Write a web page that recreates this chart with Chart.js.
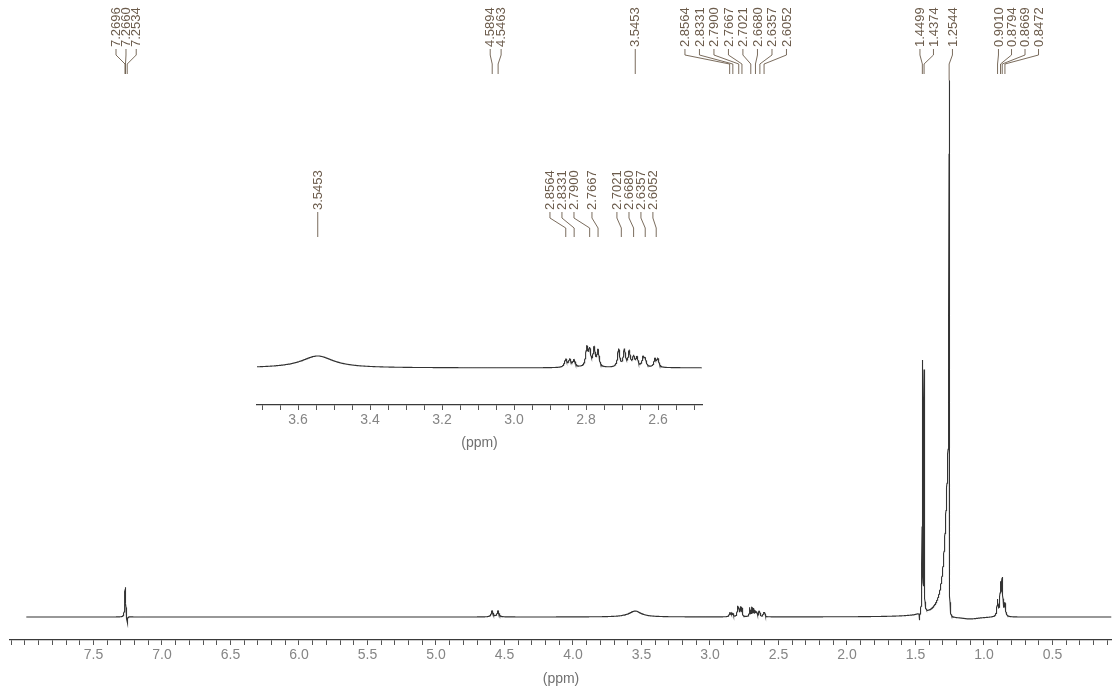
<!DOCTYPE html>
<html><head><meta charset="utf-8">
<script src="https://cdn.jsdelivr.net/npm/chart.js@4"></script>
<style>
html,body{margin:0;padding:0;background:#fff;}
#wrap{position:relative;width:1112px;height:691px;background:#fff;}
canvas{position:absolute;left:0;top:0;}
</style></head><body>
<div id="wrap"><canvas id="main" width="1112" height="691"></canvas><canvas id="inset" width="1112" height="691"></canvas></div>
<script>
// ---------- DATA ----------
// line positions (ppm) and intensities (relative, main-plot pixel units)
const peakPpm       = [7.2696, 7.2660, 7.2534, 4.5894, 4.5463, 3.5453, 2.8564, 2.8450, 2.8331, 2.7980, 2.7900, 2.7775, 2.7667, 2.7095, 2.6935, 2.6800, 2.6680, 2.6585, 2.6415, 2.6357, 2.6085, 2.6005, 1.4700, 1.4499, 1.4374, 1.2544, 1.2544, 1.1000, 0.9010, 0.8794, 0.8669, 0.8472];
const peakIntensity = [18, 22, -8, 6, 6, 6, 4, 3.5, 3.5, 9.5, 8, 9, 8, 9, 8.5, 7.5, 5, 4.5, 4.5, 3.5, 4, 4, -8, 250, 240, 367, 170, -2, 16, 30, 35, 12];
const peakWidthHigh = [0.003, 0.003, 0.003, 0.008, 0.008, 0.055, 0.004, 0.004, 0.004, 0.0035, 0.0035, 0.0035, 0.0035, 0.0035, 0.0035, 0.0035, 0.0035, 0.0035, 0.0035, 0.0035, 0.0035, 0.0035, 0.002, 0.0015, 0.0015, 0.0012, 0.029, 0.08, 0.005, 0.005, 0.005, 0.005];
const peakWidthLow  = [0.003, 0.003, 0.003, 0.008, 0.008, 0.055, 0.004, 0.004, 0.004, 0.0035, 0.0035, 0.0035, 0.0035, 0.0035, 0.0035, 0.0035, 0.0035, 0.0035, 0.0035, 0.0035, 0.0035, 0.0035, 0.002, 0.0015, 0.0015, 0.0012, 0.0008, 0.08, 0.005, 0.005, 0.005, 0.005];
const spectrumRange = [7.99, 0.07];
const insetRange    = [3.714, 2.478];
const mainRange     = [8.109, 0.0657];

// peak labels
const mainLabels  = [7.2696, 7.2660, 7.2534, 4.5894, 4.5463, 3.5453, 2.8564, 2.8331, 2.7900, 2.7667, 2.7021, 2.6680, 2.6357, 2.6052, 1.4499, 1.4374, 1.2544, 0.9010, 0.8794, 0.8669, 0.8472];
const insetLabels = [3.5453, 2.8564, 2.8331, 2.7900, 2.7667, 2.7021, 2.6680, 2.6357, 2.6052];

// tick settings
const mainTickStep = 0.1, mainLabelStep = 0.5, mainLabelMax = 7.5;
const insetTickStep = 0.05, insetLabelStep = 0.2, insetLabelMax = 3.6;

// ---------- LAYOUT (label offsets in px from their peak) ----------
const mainLabelDx  = [-9, 0.5, 9, -2, 3, 0, -44.7, -33.4, -24.8, -13.5, -7.9, 2.0, 12.1, 22.4, -2.4, 9.4, 3.3, 0.9, 11, 22.8, 33.6];
const insetLabelDx = [0, -15.8, -12.2, -15.7, -6.1, -4.4, -4.6, -4.3, -3.3];

// ---------- build ----------
function model(x){
  let y = 0;
  for (let i = 0; i < peakPpm.length; i++){
    const w = x >= peakPpm[i] ? peakWidthHigh[i] : peakWidthLow[i];
    const d = (x - peakPpm[i]) / w;
    y += peakIntensity[i] / (1 + d*d);
  }
  return y;
}
function sample(hi, lo, step){
  const xs = new Set();
  for (let x = hi; x >= lo; x -= step) xs.add(+x.toFixed(4));
  peakPpm.forEach(p => { if (p <= hi && p >= lo) xs.add(p); });
  return [...xs].sort((a,b)=>b-a).map(x => ({x, y: model(x)}));
}
const mainData = sample(spectrumRange[0], spectrumRange[1], 0.001);
const insetData = sample(insetRange[0], insetRange[1], 0.0005);

const tickFont = {family:'"Liberation Sans", Arial, sans-serif', size:14};
const labFont = '13px "Liberation Sans", Arial, sans-serif';
const INK = '#6b5b4b';

function labelPlugin(ppms, dxs, cfg){
  return {
    id: 'peakLabels',
    afterDraw(chart){
      const ctx = chart.ctx, xs = chart.scales.x, ys = chart.scales.y;
      ctx.save();
      ctx.strokeStyle = INK; ctx.fillStyle = INK; ctx.lineWidth = 0.9;
      ctx.font = labFont;
      ppms.forEach((p, i) => {
        const px = xs.getPixelForValue(p);
        const lx = px + dxs[i];
        let yEnd = cfg.y3;
        const top = ys.getPixelForValue(model(p));
        if (top > cfg.y3 && top - cfg.y3 < 12) yEnd = top;
        ctx.beginPath();
        ctx.moveTo(lx, cfg.y0); ctx.lineTo(lx, cfg.y1);
        ctx.lineTo(px, cfg.y2); ctx.lineTo(px, yEnd);
        ctx.stroke();
        ctx.save();
        ctx.translate(lx, cfg.textBottom);
        ctx.rotate(-Math.PI/2);
        ctx.textAlign = 'left'; ctx.textBaseline = 'middle';
        ctx.fillText(p.toFixed(4), 0, 0.5);
        ctx.restore();
      });
      ctx.restore();
    }
  };
}

function xAxis(range, step, labStep, labMax, axisH, title){
  return {
    type:'linear', reverse:true, min: range[1], max: range[0],
    afterFit: s => { s.height = axisH; },
    border: {display:true, color:'#3a3a3a', width:1.3},
    grid: {display:true, drawOnChartArea:false, drawTicks:true, tickLength:5, color:'#555', tickWidth:1},
    ticks: {stepSize: step, includeBounds:false, autoSkip:false, maxRotation:0, minRotation:0, padding:2,
      color:'#858585', font: tickFont,
      callback: v => { const r = v/labStep; return (Math.abs(r - Math.round(r)) < 1e-6 && v <= labMax + 1e-6) ? v.toFixed(1) : ''; }},
    title: {display:true, text:title, color:'#707070', font:{family: tickFont.family, size: 14}, padding:{top:0, bottom:3}}
  };
}

Chart.defaults.devicePixelRatio = 1;

new Chart(document.getElementById('main'), {
  type:'line',
  data:{datasets:[{data: mainData, borderColor:'#333333', borderWidth:1.1, pointRadius:0, tension:0, parsing:false, normalized:true}]},
  options:{
    responsive:false, animation:false, events:[],
    layout:{padding:{left:10, right:0, top:0, bottom:0}},
    plugins:{legend:{display:false}, tooltip:{enabled:false}},
    scales:{
      x: xAxis(mainRange, mainTickStep, mainLabelStep, mainLabelMax, 51, '(ppm)'),
      y: {display:false, min:-23, max:617}
    }
  },
  plugins:[labelPlugin(mainLabels, mainLabelDx, {textBottom:47, y0:49, y1:55, y2:64, y3:74})]
});

new Chart(document.getElementById('inset'), {
  type:'line',
  data:{datasets:[{data: insetData, borderColor:'#333333', borderWidth:1.1, pointRadius:0, tension:0, parsing:false, normalized:true}]},
  options:{
    responsive:false, animation:false, events:[],
    layout:{padding:{left:257, right:410, top:300, bottom:236}},
    plugins:{legend:{display:false}, tooltip:{enabled:false}},
    scales:{
      x: xAxis(insetRange, insetTickStep, insetLabelStep, insetLabelMax, 50, '(ppm)'),
      y: {display:false, min:-18.5, max:34}
    }
  },
  plugins:[labelPlugin(insetLabels, insetLabelDx, {textBottom:210, y0:212, y1:218, y2:228, y3:237})]
});
</script>
</body></html>
